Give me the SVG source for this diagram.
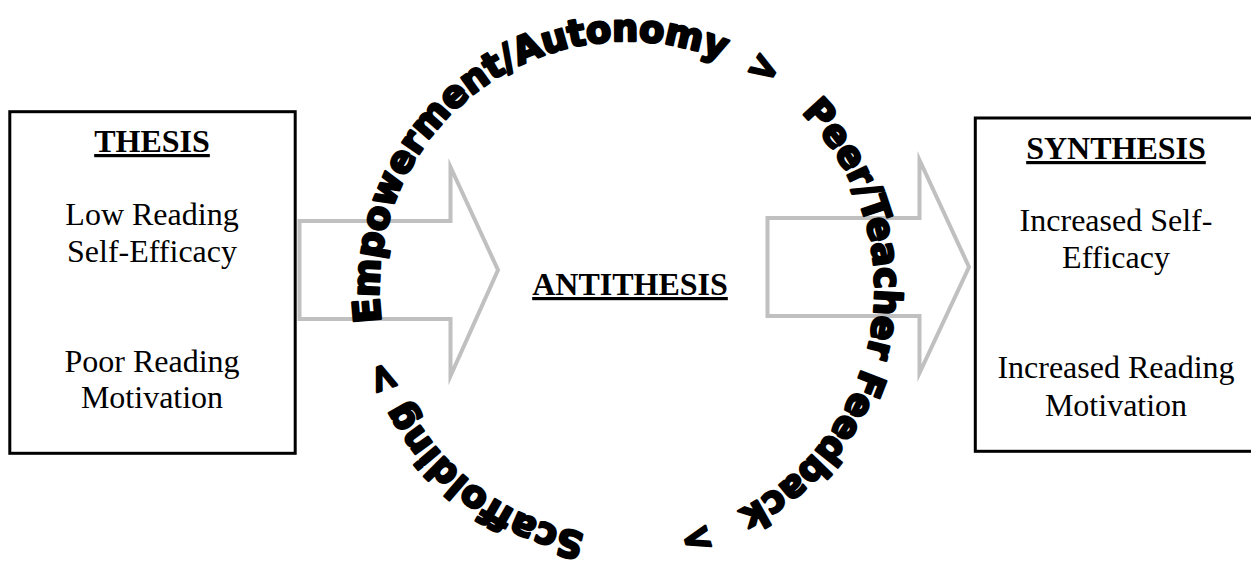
<svg xmlns="http://www.w3.org/2000/svg" xmlns:xlink="http://www.w3.org/1999/xlink" width="1251" height="565" viewBox="0 0 1251 565">
  <style>
    .box { fill: #ffffff; stroke: #000000; stroke-width: 3; }
    .arrow { fill: none; stroke: #c0c0c0; stroke-width: 4; stroke-miterlimit: 10; }
    .serif { font-family: "Liberation Serif", "Times New Roman", serif; font-size: 32px; fill: #000000; text-anchor: middle; }
    .head { font-weight: bold; text-decoration: underline; }
    .arc { font-family: "DejaVu Sans", "Liberation Sans", sans-serif; font-weight: bold; font-size: 37px; fill: #000000; stroke: #000000; stroke-width: 2.6; stroke-linejoin: round; }
  </style>
  <defs>
    <path id="ring" d="M627,537 A248,248 0 1,1 627,41 A248,248 0 1,1 627,537"/>
  </defs>
  <rect width="1251" height="565" fill="#ffffff"/>

  <g id="connectors">
    <path class="arrow" d="M299.5,221 H450.5 V167 L498,270 L450.5,376 V319 H299.5 Z"/>
    <path class="arrow" d="M767.5,218 H919.5 V160 L969,267 L919.5,373 V316 H767.5 Z"/>
  </g>

  <g id="thesis">
    <rect class="box" x="9.8" y="111.7" width="285.4" height="341.6"/>
    <text class="serif head" x="152" y="152">THESIS</text>
    <text class="serif" x="152" y="225">Low Reading</text>
    <text class="serif" x="152" y="262">Self-Efficacy</text>
    <text class="serif" x="152" y="372">Poor Reading</text>
    <text class="serif" x="152" y="408">Motivation</text>
  </g>

  <g id="antithesis">
    <text class="serif head" x="630" y="295">ANTITHESIS</text>
  </g>

  <g id="synthesis">
    <rect class="box" x="975.3" y="118" width="290" height="333.3"/>
    <text class="serif head" x="1116" y="159">SYNTHESIS</text>
    <text class="serif" x="1116" y="231">Increased Self-</text>
    <text class="serif" x="1116" y="268">Efficacy</text>
    <text class="serif" x="1116" y="378">Increased Reading</text>
    <text class="serif" x="1116" y="416">Motivation</text>
  </g>

  <g id="cycle">
    <text class="arc"><textPath xlink:href="#ring" href="#ring" startOffset="42" textLength="232" lengthAdjust="spacingAndGlyphs">Scaffolding</textPath></text>
    <text class="arc"><textPath xlink:href="#ring" href="#ring" startOffset="303" text-anchor="middle">&gt;</textPath></text>
    <text class="arc"><textPath xlink:href="#ring" href="#ring" startOffset="356.2" textLength="310.8" lengthAdjust="spacingAndGlyphs">Empowerment/</textPath></text>
    <text class="arc"><textPath xlink:href="#ring" href="#ring" startOffset="667" textLength="210.2" lengthAdjust="spacingAndGlyphs">Autonomy</textPath></text>
    <text class="arc"><textPath xlink:href="#ring" href="#ring" startOffset="916.8" text-anchor="middle">&gt;</textPath></text>
    <text class="arc"><textPath xlink:href="#ring" href="#ring" startOffset="972" textLength="470" lengthAdjust="spacingAndGlyphs">Peer/Teacher Feedback</textPath></text>
    <text class="arc"><textPath xlink:href="#ring" href="#ring" startOffset="1490" text-anchor="middle">&gt;</textPath></text>
  </g>
</svg>
